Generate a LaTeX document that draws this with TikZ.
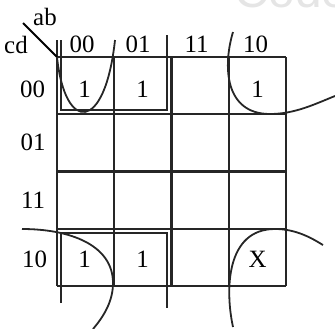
\documentclass[tikz,border=0pt]{standalone}
\usepackage{fontspec}
\setmainfont{Liberation Serif}
\newfontfamily\wmfont{Liberation Sans}
\begin{document}
\begin{tikzpicture}[x=1bp,y=-1bp,
  gridline/.style={line width=2.1bp, black!85},
  groupline/.style={line width=1.6bp, black!85},
  loopline/.style={line width=1.8bp, black!85},
  lbl/.style={font=\fontsize{25}{25}\selectfont, anchor=base, inner sep=0pt},
  cell/.style={font=\fontsize{25}{25}\selectfont, anchor=base, inner sep=0pt}]
\useasboundingbox (0,0) rectangle (335,329);
% watermark
\node[anchor=base west, inner sep=0pt, text=black!10, font=\wmfont\fontsize{48}{48}\selectfont] (wm) at (234,7) {Code};
% grid
\foreach \i in {0,...,4} {
  \draw[gridline] (57+57.25*\i,57) -- (57+57.25*\i,286);
  \draw[gridline] (57,57+57.25*\i) -- (286,57+57.25*\i);
}
\draw[gridline] (57,40) -- (57,57);
% diagonal
\coordinate (dstart) at (23,23);
\coordinate (corner) at (57,57);
\draw[line width=1.8bp] (dstart) -- (corner);
% headers
\node[lbl] (ab) at (45,25) {ab};
\node[lbl] (cd) at (16,53) {cd};
\node[lbl] (c00) at (82,52) {00};
\node[lbl] (c01) at (138,52) {01};
\node[lbl] (c11) at (196.5,52) {11};
\node[lbl] (c10) at (255.5,52) {10};
\node[lbl] (r00) at (32.5,97) {00};
\node[lbl] (r01) at (33,150) {01};
\node[lbl] (r11) at (33,208) {11};
\node[lbl] (r10) at (34.5,267) {10};
% cells
\node[cell] (m0) at (84.5,97) {1};
\node[cell] (m4) at (142.5,97) {1};
\node[cell] (m8) at (257.5,97) {1};
\node[cell] (m2) at (84.5,267) {1};
\node[cell] (m6) at (142.5,267) {1};
\node[cell] (m10) at (257.5,267) {X};
% group rectangles
\draw[groupline] (61,40) -- (61,110) -- (167,110) -- (167,35);
\draw[groupline] (61,303) -- (61,233) -- (167,233) -- (167,308);
% loops
\draw[loopline] (57,57) .. controls (65,133) and (105,133) .. (115,40);
\draw[loopline] (233,32) .. controls (223,65) and (224,114) .. (270,114)
   .. controls (295,114) and (315,104) .. (335,96);
\draw[loopline] (22,229) .. controls (70,229) and (113,245) .. (113,283)
   .. controls (113,300) and (105,315) .. (93,329);
\draw[loopline] (233,327) .. controls (225,290) and (226,229) .. (275,229)
   .. controls (295,229) and (310,237) .. (323,245);
\end{tikzpicture}
\end{document}
